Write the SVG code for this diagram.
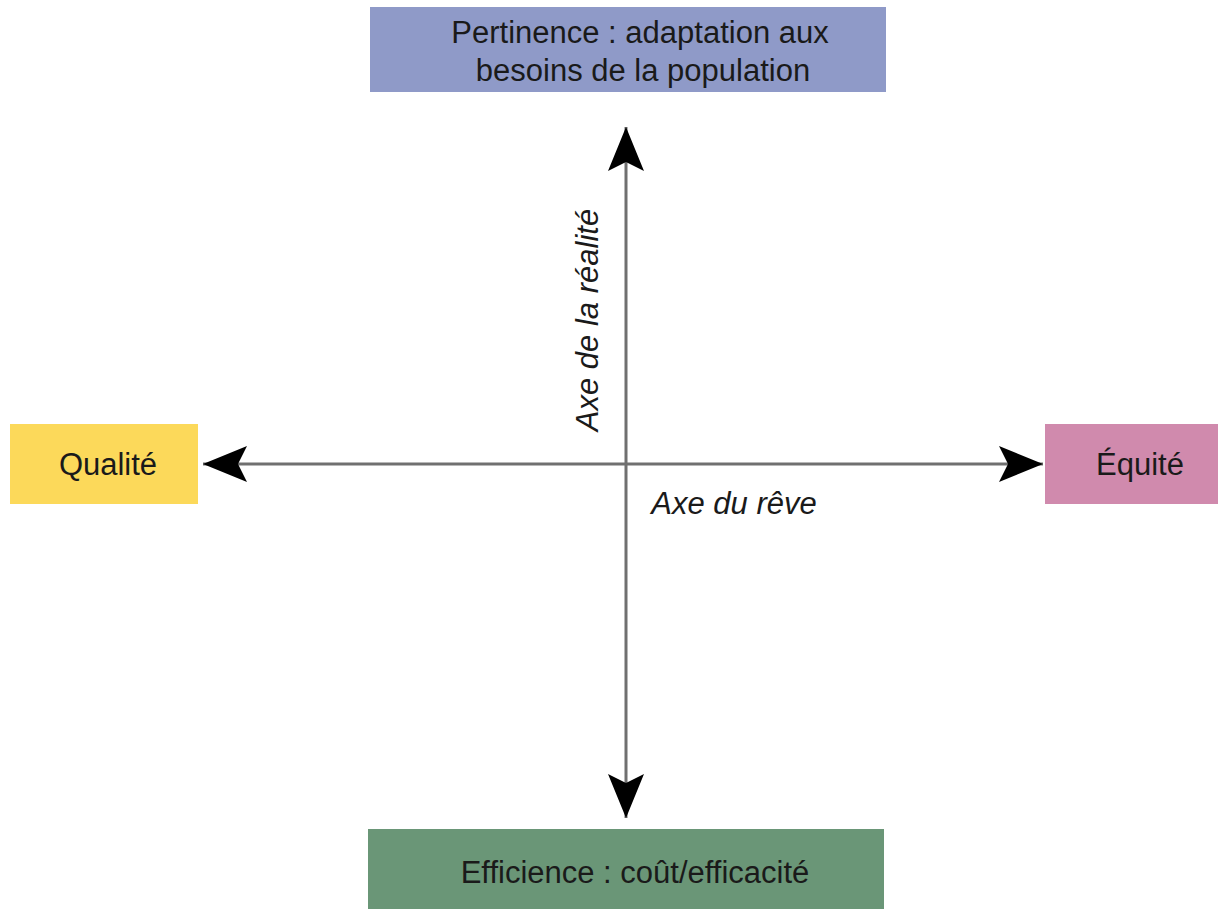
<svg xmlns="http://www.w3.org/2000/svg" width="1218" height="909" viewBox="0 0 1218 909">
<style>
.lbl{font-family:"Liberation Sans",Arial,sans-serif;font-size:31px;fill:#1a1a1a;text-anchor:middle}
.ax{font-family:"Liberation Sans",Arial,sans-serif;font-size:31px;font-style:italic;fill:#1a1a1a;text-anchor:middle}
.axis{stroke:#707070;stroke-width:3;fill:none}
</style>
<defs>
<marker id="arr" viewBox="0 0 44 36" refX="44" refY="18" markerWidth="44" markerHeight="36" markerUnits="userSpaceOnUse" orient="auto-start-reverse">
<path d="M0,0 L44,18 L0,36 L9,18 Z" fill="#000"/>
</marker>
</defs>
<rect width="1218" height="909" fill="#fff"/>
<g id="connectors">
<line class="axis" x1="626" y1="127" x2="626" y2="818" marker-start="url(#arr)" marker-end="url(#arr)"/>
<line class="axis" x1="203" y1="464" x2="1043" y2="464" marker-start="url(#arr)" marker-end="url(#arr)"/>
<text class="ax" x="734" y="514">Axe du rêve</text>
<text class="ax" transform="translate(598,320) rotate(-90)" x="0" y="0">Axe de la réalité</text>
</g>
<g id="pertinence">
<rect x="370" y="7" width="516" height="85" fill="#8f9ac8"/>
<text class="lbl" x="640" y="43">Pertinence : adaptation aux</text>
<text class="lbl" x="643" y="81">besoins de la population</text>
</g>
<g id="qualite">
<rect x="10" y="424" width="188" height="80" fill="#fcd95a"/>
<text class="lbl" x="108" y="475">Qualité</text>
</g>
<g id="equite">
<rect x="1045" y="424" width="173" height="80" fill="#d08aad"/>
<text class="lbl" x="1140" y="475">Équité</text>
</g>
<g id="efficience">
<rect x="368" y="829" width="516" height="80" fill="#6a9677"/>
<text class="lbl" x="635" y="883">Efficience : coût/efficacité</text>
</g>
</svg>
